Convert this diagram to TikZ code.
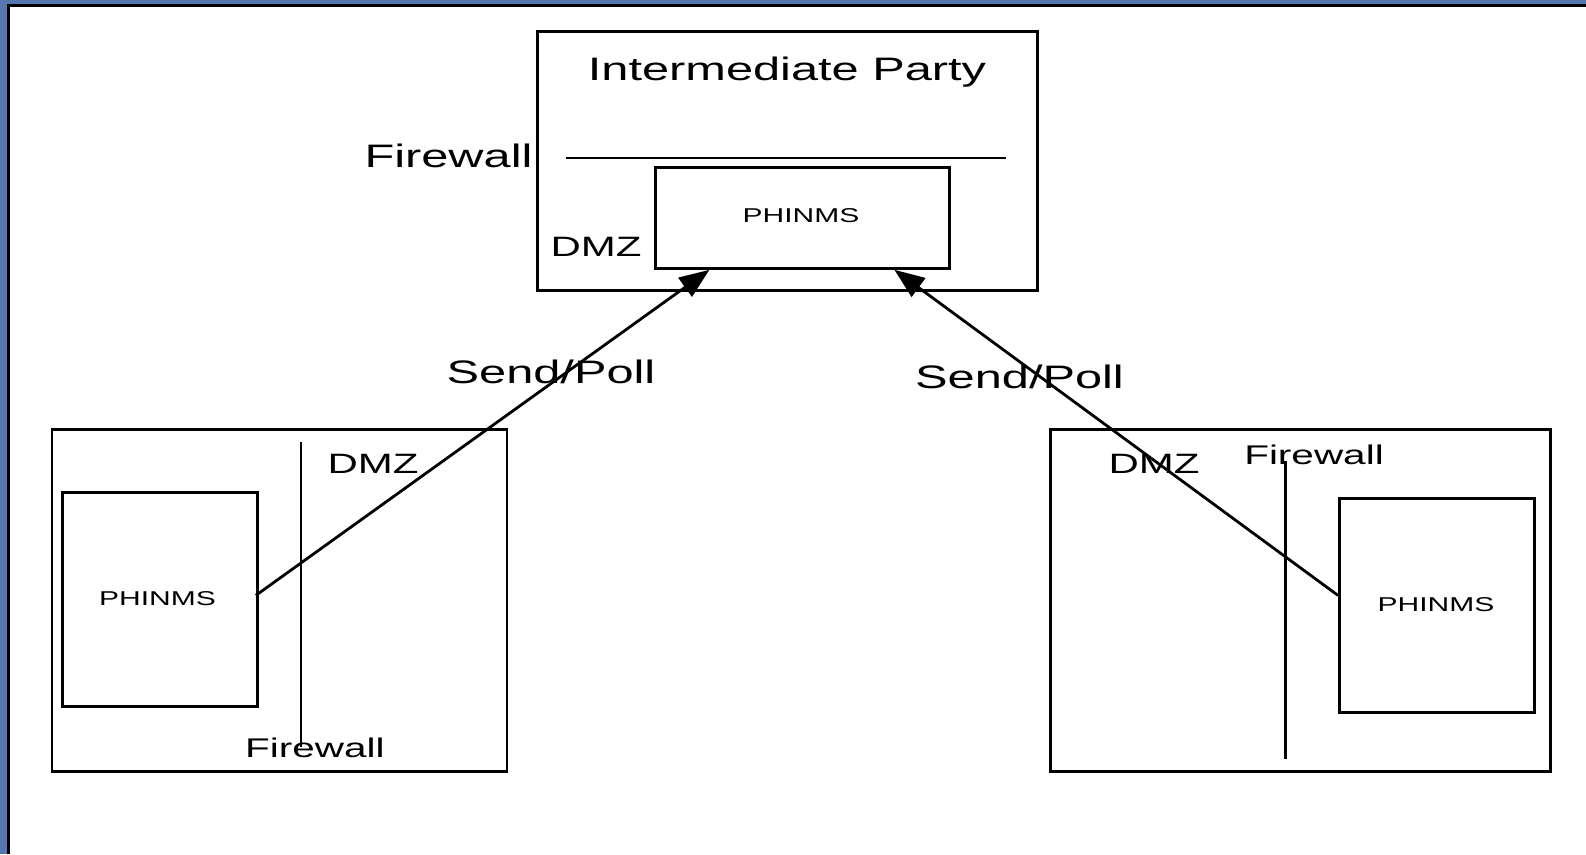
\documentclass[tikz,border=0pt]{standalone}
\usepackage{fontspec}
\setmainfont{Liberation Sans}
\usetikzlibrary{arrows.meta,calc}
\newcommand\wtxt[1]{\scalebox{1.5}[1]{#1}}
\definecolor{frameblue}{RGB}{86,118,178}
\begin{document}
\begin{tikzpicture}[x=1pt,y=-1pt,
  box/.style={draw,line width=2.8pt,inner sep=0pt,anchor=north west},
  wall/.style={line width=2.8pt},
  lbl/.style={inner sep=0pt,anchor=base},
  big/.style={lbl,font=\fontsize{32.5}{38}\selectfont},
  mid/.style={lbl,font=\fontsize{28}{33}\selectfont},
  sml/.style={lbl,font=\fontsize{27}{32}\selectfont},
  tiny/.style={lbl,font=\fontsize{20}{24}\selectfont},
  conn/.style={line width=2.8pt,-{Triangle[length=30pt,width=23pt]}}]
\useasboundingbox (0,0) rectangle (1586,854);
\fill[white] (0,0) rectangle (1586,854);
% frame
\fill[frameblue] (0,0) rectangle (6.5,854);
\fill[frameblue] (0,0) rectangle (1586,3.5);
\draw[line width=3pt] (8,854) -- (8,5) -- (1586,5);
% top box
\node[box,minimum width=500pt,minimum height=259pt] (top) at (536,30) {};
\node[box,minimum width=294pt,minimum height=101pt] (tp) at (654,166) {};
\coordinate (fwa) at (566,158);
\coordinate (fwb) at (1006,158);
\draw[wall] (fwa) -- (fwb);
\node[big] (title) at (787,80) {\wtxt{Intermediate Party}};
\node[big] (fwtop) at (448.5,167) {\wtxt{Firewall}};
\node[mid] (dmztop) at (596,256) {\wtxt{DMZ}};
\node[tiny] (tptxt) at (801,222.7) {\wtxt{PHINMS}};
% left box
\node[box,minimum width=455pt,minimum height=342pt] (lbox) at (50.6,428) {};
\node[box,minimum width=195pt,minimum height=214pt] (lp) at (61,491) {};
\coordinate (lwa) at (301,442);
\coordinate (lwb) at (301,747);
\draw[wall] (lwa) -- (lwb);
\node[mid] (ldmz) at (373,473) {\wtxt{DMZ}};
\node[sml] (lfw) at (315,757) {\wtxt{Firewall}};
\node[tiny] (lptxt) at (157.5,605) {\wtxt{PHINMS}};
% right box
\node[box,minimum width=500pt,minimum height=342pt] (rbox) at (1049,428) {};
\node[box,minimum width=195pt,minimum height=214pt] (rp) at (1338,497) {};
\coordinate (rwa) at (1285.5,461);
\coordinate (rwb) at (1285.5,759);
\draw[wall] (rwa) -- (rwb);
\node[mid] (rdmz) at (1154,473) {\wtxt{DMZ}};
\node[sml] (rfw) at (1314,464) {\wtxt{Firewall}};
\node[tiny] (rptxt) at (1436,611) {\wtxt{PHINMS}};
% connectors
\node[big] (sp1) at (551,383) {\wtxt{Send/Poll}};
\node[big] (sp2) at (1019.5,388) {\wtxt{Send/Poll}};
\draw[conn] ([xshift=-3pt,yshift=4pt]lp.east) -- ([xshift=-93pt]tp.south);
\draw[conn] ([yshift=10pt]rp.west) -- ([xshift=92pt]tp.south);
\end{tikzpicture}
\end{document}
